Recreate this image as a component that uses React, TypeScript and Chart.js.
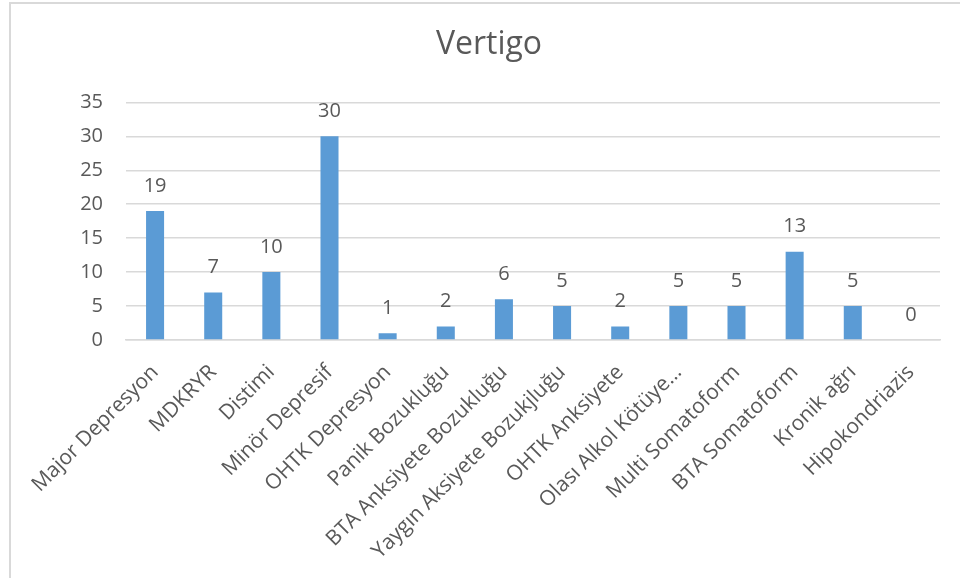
import React, { useEffect, useRef } from "react";
import { Chart, registerables } from "chart.js";

Chart.register(...registerables);

const categories = [
  "Major Depresyon",
  "MDKRYR",
  "Distimi",
  "Minör Depresif",
  "OHTK Depresyon",
  "Panik Bozukluğu",
  "BTA Anksiyete Bozukluğu",
  "Yaygın Aksiyete Bozukjluğu",
  "OHTK Anksiyete",
  "Olası Alkol Kötüye…",
  "Multi Somatoform",
  "BTA Somatoform",
  "Kronik ağrı",
  "Hipokondriazis",
];

const values = [19, 7, 10, 30, 1, 2, 6, 5, 2, 5, 5, 13, 5, 0];

const yTicks = [0, 5, 10, 15, 20, 25, 30, 35];

const FONT = "'Open Sans', 'Noto Sans', sans-serif";
const TEXT = "#595959";
const GRID = "#d9d9d9";
const BAR = "#5b9bd5";

// Writes each bar's value centred above its top edge.
const valueLabels = {
  id: "valueLabels",
  afterDatasetsDraw(chart: Chart) {
    const { ctx } = chart;
    const meta = chart.getDatasetMeta(0);
    const data = chart.data.datasets[0].data as number[];
    ctx.save();
    ctx.font = `20px ${FONT}`;
    ctx.fillStyle = TEXT;
    ctx.textAlign = "center";
    ctx.textBaseline = "middle";
    meta.data.forEach((bar: any, i: number) => {
      ctx.fillText(String(data[i]), bar.x, bar.y - 25);
    });
    ctx.restore();
  },
};

export default function App() {
  const canvasRef = useRef<HTMLCanvasElement>(null);

  useEffect(() => {
    document.body.style.margin = "0";
    const canvas = canvasRef.current;
    if (!canvas) return;
    const chart = new Chart(canvas, {
      type: "bar",
      data: {
        labels: categories,
        datasets: [
          {
            data: values,
            backgroundColor: BAR,
            barPercentage: 0.62,
            categoryPercentage: 0.5,
          },
        ],
      },
      plugins: [valueLabels],
      options: {
        responsive: false,
        animation: false,
        layout: { padding: { left: 26, right: 18, top: 0, bottom: 2 } },
        plugins: {
          legend: { display: false },
          tooltip: { enabled: false },
          title: {
            display: true,
            text: "Vertigo",
            color: TEXT,
            font: { family: FONT, size: 32, weight: "normal" },
            padding: { top: 22, bottom: 38 },
          },
        },
        scales: {
          x: {
            grid: { display: false },
            border: { color: GRID, width: 1.5 },
            ticks: {
              color: TEXT,
              font: { family: FONT, size: 21 },
              minRotation: 45,
              maxRotation: 45,
              autoSkip: false,
              padding: 12,
            },
          },
          y: {
            min: 0,
            max: 35,
            afterBuildTicks(axis: any) {
              axis.ticks = yTicks.map((v) => ({ value: v }));
            },
            afterFit(axis: any) {
              axis.width = 88;
            },
            grid: { color: GRID, lineWidth: 1.5, drawTicks: false },
            border: { display: false },
            ticks: {
              color: TEXT,
              font: { family: FONT, size: 20 },
              padding: 23,
            },
          },
        },
      },
    });
    return () => chart.destroy();
  }, []);

  return (
    <div style={{ position: "relative", width: 960, height: 578, background: "#fff", overflow: "hidden" }}>
      <canvas ref={canvasRef} width={946} height={574} style={{ position: "absolute", left: 12, top: 4 }} />
      <div
        style={{
          position: "absolute",
          left: 9,
          top: 2,
          width: 951,
          height: 576,
          borderTop: `2px solid ${GRID}`,
          borderLeft: `2px solid ${GRID}`,
          boxSizing: "border-box",
          pointerEvents: "none",
        }}
      />
    </div>
  );
}
